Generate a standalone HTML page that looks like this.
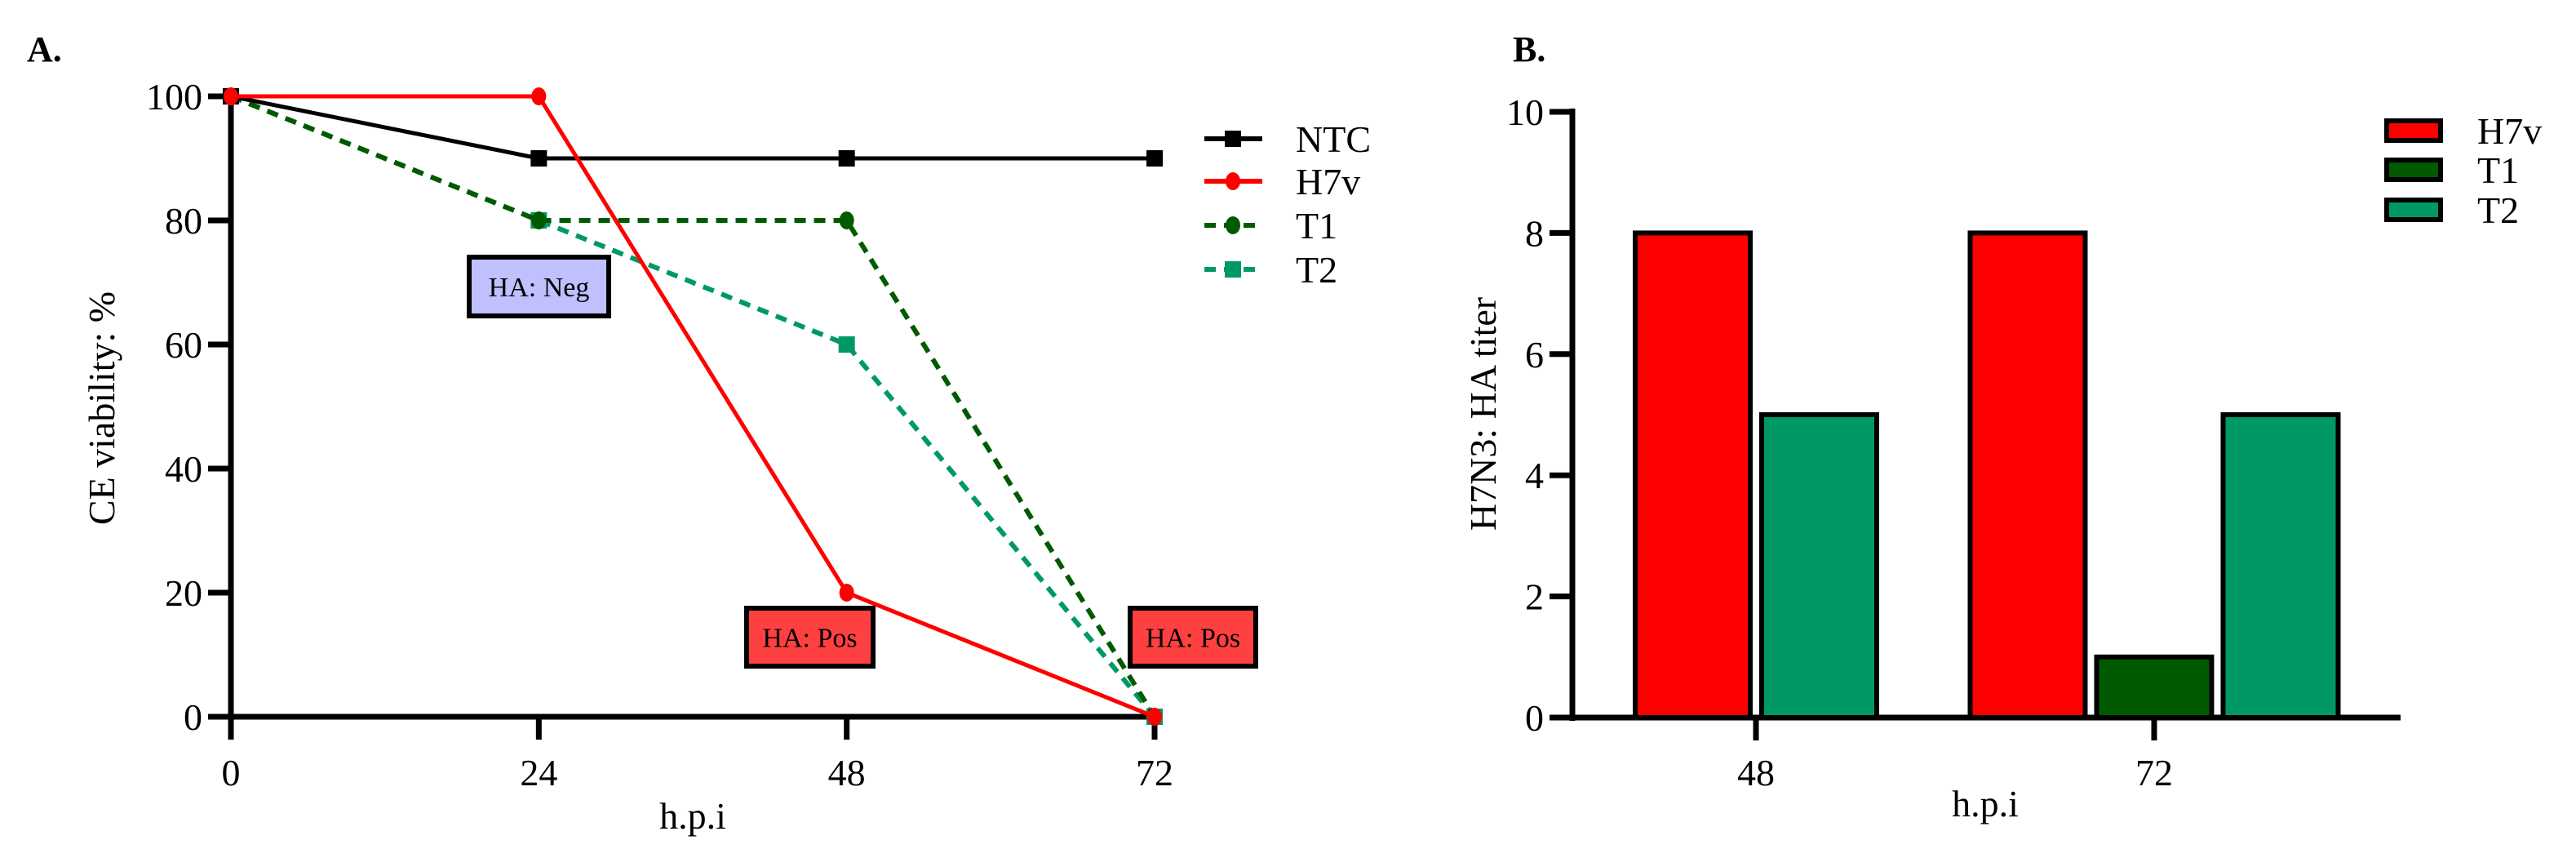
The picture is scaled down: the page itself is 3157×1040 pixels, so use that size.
<!DOCTYPE html>
<html><head><meta charset="utf-8"><style>
html,body{margin:0;padding:0;background:#fff;}
svg{display:block;font-family:"Liberation Serif",serif;}
</style></head><body>
<svg id="fig" width="3157" height="1040" viewBox="0 0 3157 1040" xmlns="http://www.w3.org/2000/svg">
<text x="33" y="75" font-size="44" font-weight="bold">A.</text>
<text x="1854" y="75" font-size="44" font-weight="bold">B.</text>
<g id="chartA"></g>
<g id="chartB"></g>
</svg>
<script>
// ---- Panel A data ----
const hours = [0, 24, 48, 72];
const ntcValues = [100, 90, 90, 90];
const h7vValues = [100, 100, 20, 0];
const t1Values = [100, 80, 80, 0];
const t2Values = [100, 80, 60, 0];
const yTicksA = [0, 20, 40, 60, 80, 100];
// ---- Panel B data ----
const groupsB = ["48", "72"];
const h7vTiter = [8, 8];
const t1Titer = [null, 1];
const t2Titer = [5, 5];
const yTicksB = [0, 2, 4, 6, 8, 10];

const NS = "http://www.w3.org/2000/svg";
function mk(parent, tag, attrs, text) {
  const e = document.createElementNS(NS, tag);
  for (const k in attrs) e.setAttribute(k, attrs[k]);
  if (text !== undefined) e.textContent = text;
  parent.appendChild(e);
  return e;
}

// ---- Panel A ----
const A = document.getElementById('chartA');
const ax = v => 283 + (v - 0) / 72 * (1415 - 283);
const ay = v => 878 - v / 100 * (878 - 118);

let e;
e = mk(A, 'line', {x1: 283, y1: 114, x2: 283, y2: 882, stroke: '#000', 'stroke-width': 7});


e = mk(A, 'line', {x1: 280, y1: 878, x2: 1418, y2: 878, stroke: '#000', 'stroke-width': 7});


yTicksA.forEach(t => {
  e = mk(A, 'line', {x1: 255, y1: ay(t), x2: 283, y2: ay(t), stroke: '#000', 'stroke-width': 7});
  
  
  e = mk(A, 'text', {x: 248, y: ay(t) + 16, 'font-size': 46, 'text-anchor': 'end'}, String(t));
  
  
});
hours.forEach(h => {
  e = mk(A, 'line', {x1: ax(h), y1: 878, x2: ax(h), y2: 906, stroke: '#000', 'stroke-width': 7});
  
  
  e = mk(A, 'text', {x: ax(h), y: 962, 'font-size': 46, 'text-anchor': 'middle'}, String(h));
  
  
});
e = mk(A, 'text', {x: 849, y: 1015, 'font-size': 46, 'text-anchor': 'middle'}, 'h.p.i');


e = mk(A, 'text', {x: 0, y: 0, 'font-size': 46, 'text-anchor': 'middle', transform: 'translate(140,500) rotate(-90)'}, 'CE viability: %');



const seriesA = [
  {name: 'T2', vals: t2Values, color: '#009966', dash: '14,10', marker: 'sq'},
  {name: 'T1', vals: t1Values, color: '#005a00', dash: '14,10', marker: 'ci'},
  {name: 'NTC', vals: ntcValues, color: '#000', dash: '', marker: 'sq'},
  {name: 'H7v', vals: h7vValues, color: '#ff0000', dash: '', marker: 'ci'}
];
function marker(g, type, x, y, color) {
  if (type === 'sq') return mk(g, 'rect', {x: x - 10, y: y - 10, width: 20, height: 20, fill: color});
  return mk(g, 'ellipse', {cx: x, cy: y, rx: 9, ry: 11, fill: color});
}
seriesA.forEach(s => {
  const g = mk(A, 'g', {});
  
  
  const pts = s.vals.map((v, i) => ax(hours[i]) + ',' + ay(v)).join(' ');
  e = mk(g, 'polyline', {points: pts, fill: 'none', stroke: s.color, 'stroke-width': s.dash ? 6 : 5, 'stroke-dasharray': s.dash});
  
  
  s.vals.forEach((v, i) => {
    e = marker(g, s.marker, ax(hours[i]), ay(v), s.color);
    
    
  });
});
// legend A
const legA = [seriesA[2], seriesA[3], seriesA[1], seriesA[0]];
const legAY = [170, 222, 276, 330];
legA.forEach((s, i) => {
  const g = mk(A, 'g', {});
  
  
  mk(g, 'line', {x1: 1476, y1: legAY[i], x2: 1547, y2: legAY[i], stroke: s.color, 'stroke-width': 6, 'stroke-dasharray': s.dash ? '14,10' : ''});
  marker(g, s.marker, 1511, legAY[i], s.color);
  mk(g, 'text', {x: 1588, y: legAY[i] + 16, 'font-size': 46}, s.name);
});
// annotations
const notes = [
  {x: 575, y: 315, w: 171, h: 72, fill: '#c0c0ff', t: 'HA: Neg'},
  {x: 915, y: 745, w: 155, h: 71, fill: '#ff4040', t: 'HA: Pos'},
  {x: 1385, y: 745, w: 154, h: 71, fill: '#ff4040', t: 'HA: Pos'}
];
notes.forEach(n => {
  const g = mk(A, 'g', {});
  
  
  mk(g, 'rect', {x: n.x, y: n.y, width: n.w, height: n.h, fill: n.fill, stroke: '#000', 'stroke-width': 6});
  mk(g, 'text', {x: n.x + n.w / 2, y: n.y + n.h / 2 + 12, 'font-size': 34, 'text-anchor': 'middle'}, n.t);
});

// ---- Panel B ----
const B = document.getElementById('chartB');
const by = v => 879 - v / 10 * (879 - 137);
const groupX = [2152, 2640];
const barW = 141, barGap = 14;
e = mk(B, 'line', {x1: 1927, y1: 133, x2: 1927, y2: 883, stroke: '#000', 'stroke-width': 7});


e = mk(B, 'line', {x1: 1924, y1: 879, x2: 2942, y2: 879, stroke: '#000', 'stroke-width': 7});


yTicksB.forEach(t => {
  e = mk(B, 'line', {x1: 1899, y1: by(t), x2: 1927, y2: by(t), stroke: '#000', 'stroke-width': 7});
  
  
  e = mk(B, 'text', {x: 1892, y: by(t) + 16, 'font-size': 46, 'text-anchor': 'end'}, String(t));
  
  
});
groupsB.forEach((gname, gi) => {
  e = mk(B, 'line', {x1: groupX[gi], y1: 879, x2: groupX[gi], y2: 907, stroke: '#000', 'stroke-width': 7});
  
  
  e = mk(B, 'text', {x: groupX[gi], y: 962, 'font-size': 46, 'text-anchor': 'middle'}, gname);
  
  
});
e = mk(B, 'text', {x: 2433, y: 1000, 'font-size': 46, 'text-anchor': 'middle'}, 'h.p.i');


e = mk(B, 'text', {x: 0, y: 0, 'font-size': 46, 'text-anchor': 'middle', transform: 'translate(1833,507) rotate(-90)'}, 'H7N3: HA titer');



const seriesB = [
  {name: 'H7v', vals: h7vTiter, color: '#ff0000'},
  {name: 'T1', vals: t1Titer, color: '#005a00'},
  {name: 'T2', vals: t2Titer, color: '#009966'}
];
groupsB.forEach((gname, gi) => {
  const present = seriesB.filter(s => s.vals[gi] !== null && s.vals[gi] !== undefined);
  const total = present.length * barW + (present.length - 1) * barGap;
  let x = groupX[gi] - total / 2;
  present.forEach(s => {
    const v = s.vals[gi];
    e = mk(B, 'rect', {x: x, y: by(v), width: barW, height: 879 - by(v), fill: s.color, stroke: '#000', 'stroke-width': 6});
    
    
    x += barW + barGap;
  });
});
const legBY = [160, 208, 257];
seriesB.forEach((s, i) => {
  const g = mk(B, 'g', {});
  
  
  mk(g, 'rect', {x: 2925, y: legBY[i] - 12, width: 66, height: 24, fill: s.color, stroke: '#000', 'stroke-width': 6});
  mk(g, 'text', {x: 3036, y: legBY[i] + 16, 'font-size': 46}, s.name);
});
</script>
</body></html>
